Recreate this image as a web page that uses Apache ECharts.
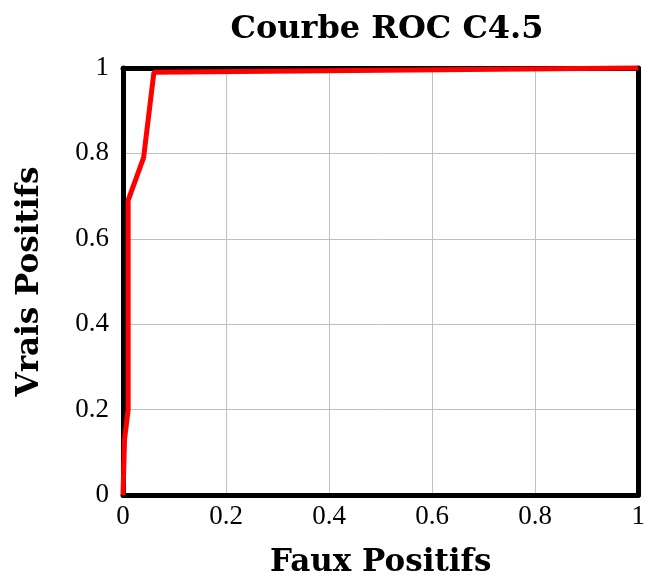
<!DOCTYPE html>
<html>
<head>
<meta charset="utf-8">
<script src="https://cdn.jsdelivr.net/npm/echarts@6/dist/echarts.min.js"></script>
<style>
  html, body { margin: 0; padding: 0; background: #fff; }
  #chart { width: 648px; height: 583px; }
</style>
</head>
<body>
<div id="chart"></div>
<script>
// ROC curve points
const fauxPositifs = [0, 0.003, 0.01, 0.01, 0.04, 0.06, 1]
const vraisPositifs = [0, 0.13, 0.2, 0.69, 0.79, 0.99, 1]

const BOLD_FONT = 'DejaVu Serif'
const TICK_FONT = 'Liberation Serif'

const chart = echarts.init(document.getElementById('chart'))

const frameLine = { show: true, onZero: false, lineStyle: { color: '#000', width: 5 } }
const fmt = v => String(Math.round(v * 10) / 10)

const option = {
  animation: false,
  title: {
    text: 'Courbe ROC C4.5',
    left: 382,
    textAlign: 'center',
    top: 9,
    textStyle: { fontFamily: BOLD_FONT, fontWeight: 'bold', fontSize: 32, color: '#000' }
  },
  grid: {
    left: 123,
    right: 8,
    top: 68,
    bottom: 86
  },
  xAxis: [{
    type: 'value',
    min: 0,
    max: 1,
    interval: 0.2,
    name: 'Faux Positifs',
    nameLocation: 'middle',
    nameGap: 52,
    nameTextStyle: { fontFamily: BOLD_FONT, fontWeight: 'bold', fontSize: 31, color: '#000' },
    axisLine: frameLine,
    axisTick: { show: false },
    splitLine: { lineStyle: { color: '#c0c0c0', width: 1 } },
    axisLabel: { fontFamily: TICK_FONT, fontSize: 27, color: '#000', margin: 8, formatter: fmt }
  }, {
    type: 'value',
    position: 'top',
    min: 0,
    max: 1,
    interval: 0.2,
    axisLine: frameLine,
    axisTick: { show: false },
    axisLabel: { show: false },
    splitLine: { show: false }
  }],
  yAxis: [{
    type: 'value',
    min: 0,
    max: 1,
    interval: 0.2,
    name: 'Vrais Positifs',
    nameLocation: 'middle',
    nameGap: 78,
    nameTextStyle: { fontFamily: BOLD_FONT, fontWeight: 'bold', fontSize: 31, color: '#000' },
    axisLine: frameLine,
    axisTick: { show: false },
    splitLine: { lineStyle: { color: '#c0c0c0', width: 1 } },
    axisLabel: { fontFamily: TICK_FONT, fontSize: 27, color: '#000', margin: 14, formatter: fmt }
  }, {
    type: 'value',
    position: 'right',
    min: 0,
    max: 1,
    interval: 0.2,
    axisLine: frameLine,
    axisTick: { show: false },
    axisLabel: { show: false },
    splitLine: { show: false }
  }],
  series: [{
    type: 'line',
    data: fauxPositifs.map((x, i) => [x, vraisPositifs[i]]),
    showSymbol: false,
    lineStyle: { color: '#ff0000', width: 5 },
    z: 5,
    clip: false
  }]
}

chart.setOption(option)
</script>
</body>
</html>
